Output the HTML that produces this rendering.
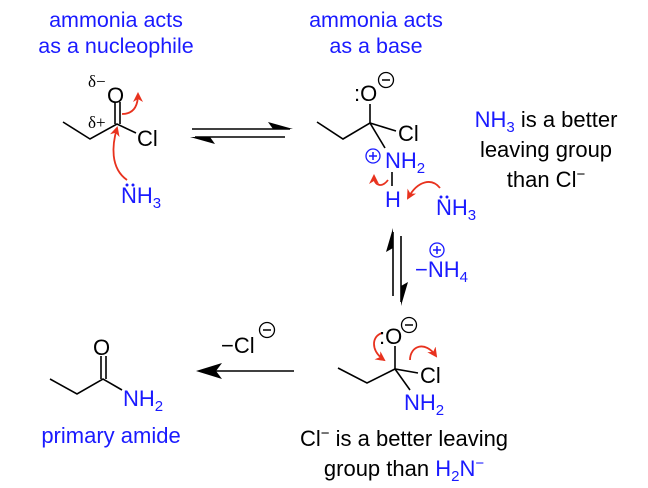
<!DOCTYPE html>
<html><head><meta charset="utf-8"><style>
html,body{margin:0;padding:0;background:#fff;}
svg{display:block;}
text{font-family:"Liberation Sans",Arial,sans-serif;}
.b{fill:#1a1aff;}
.k{fill:#000;}
</style></head><body>
<svg width="648" height="488" viewBox="0 0 648 488" xmlns="http://www.w3.org/2000/svg">
<defs>
<marker id="ra" markerWidth="10" markerHeight="10" refX="8" refY="5" orient="auto" markerUnits="userSpaceOnUse">
<path d="M0,0 L10,5 L0,10 L3,5 Z" fill="#e8321e"/></marker>
</defs>
<text x="116" y="27" font-size="21.5" text-anchor="middle" class="b">ammonia acts</text>
<text x="116" y="53" font-size="21.5" text-anchor="middle" class="b">as a nucleophile</text>
<text x="376" y="27" font-size="21.5" text-anchor="middle" class="b">ammonia acts</text>
<text x="376" y="53" font-size="21.5" text-anchor="middle" class="b">as a base</text>

<g stroke="#000" stroke-width="1.6" fill="none">
<polyline points="63,122 90,139 117,124 136,133"/>
<line x1="115" y1="124" x2="115" y2="102"/>
<line x1="120" y1="124" x2="120" y2="102"/>
<line x1="192" y1="129" x2="290" y2="129"/>
<line x1="195" y1="137" x2="285" y2="137"/>
<polyline points="317,122 343,139 370,123 396,131"/>
<line x1="370" y1="123" x2="370" y2="104"/>
<line x1="370" y1="123" x2="385" y2="148"/>
<line x1="392" y1="172" x2="392" y2="186"/>
<line x1="393" y1="232" x2="393" y2="296"/>
<line x1="401" y1="236" x2="401" y2="302"/>
<polyline points="338,368 367,383 395,369 418,373"/>
<line x1="395" y1="369" x2="395" y2="346"/>
<line x1="395" y1="369" x2="410" y2="390"/>
<polyline points="50,379 77,394 103,379 122,390"/>
<line x1="101" y1="379" x2="101" y2="356"/>
<line x1="106" y1="379" x2="106" y2="356"/>
<line x1="215" y1="371" x2="294" y2="371"/>
</g>
<path d="M293,129 L268,122 L273,129 Z" fill="#000"/>
<path d="M190,137 L215,144 L210,137 Z" fill="#000"/>
<path d="M393,228 L386,252 L393,248 Z" fill="#000"/>
<path d="M401,306 L408,282 L401,286 Z" fill="#000"/>
<path d="M196,371 L222,363 L216,371 L222,379 Z" fill="#000"/>

<text x="107" y="103" font-size="22" class="k">O</text>
<text x="137" y="146" font-size="22" class="k">Cl</text>
<text x="88" y="87" font-size="17" style="font-family:'Liberation Serif',serif" class="k">δ−</text>
<text x="88" y="128" font-size="17" style="font-family:'Liberation Serif',serif" class="k">δ+</text>
<text x="121" y="203" font-size="22" class="b">NH<tspan font-size="15" dy="5">3</tspan></text>
<circle cx="127" cy="185" r="1.5" class="b"/><circle cx="133" cy="185" r="1.5" class="b"/>
<g stroke="#e8321e" stroke-width="1.8" fill="none">
<path d="M127,180 C110,168 112,145 117,128" marker-end="url(#ra)"/>
<path d="M122,114 C132,114 138,108 138,94" marker-end="url(#ra)"/>
<path d="M388,180 C382,188 374,186 374,176" marker-end="url(#ra)"/>
<path d="M440,188 C432,178 418,180 408,198" marker-end="url(#ra)"/>
<path d="M382,333 C372,336 370,350 384,360" marker-end="url(#ra)"/>
<path d="M410,360 C410,346 425,340 436,356" marker-end="url(#ra)"/>
</g>

<text x="354" y="101" font-size="22" class="k">:O</text>
<circle cx="386" cy="80" r="7.5" fill="none" stroke="#000" stroke-width="1.3"/>
<line x1="382" y1="80" x2="390" y2="80" stroke="#000" stroke-width="1.5"/>
<text x="398" y="141" font-size="22" class="k">Cl</text>
<circle cx="373" cy="156" r="7" fill="none" stroke="#1a1aff" stroke-width="1.3"/>
<line x1="369" y1="156" x2="377" y2="156" stroke="#1a1aff" stroke-width="1.5"/>
<line x1="373" y1="152" x2="373" y2="160" stroke="#1a1aff" stroke-width="1.5"/>
<text x="385" y="168" font-size="22" class="b">NH<tspan font-size="15" dy="5">2</tspan></text>
<text x="385" y="207" font-size="22" class="b">H</text>
<text x="436" y="215" font-size="22" class="b">NH<tspan font-size="15" dy="5">3</tspan></text>
<circle cx="441" cy="197" r="1.5" class="b"/><circle cx="447" cy="197" r="1.5" class="b"/>

<text x="546" y="127" font-size="22" text-anchor="middle" class="k"><tspan class="b">NH<tspan font-size="15" dy="5">3</tspan></tspan><tspan dy="-5"> is a better</tspan></text>
<text x="546" y="157" font-size="22" text-anchor="middle" class="k">leaving group</text>
<text x="546" y="187" font-size="22" text-anchor="middle" class="k">than Cl<tspan font-size="15" dy="-8">−</tspan></text>

<circle cx="437" cy="250" r="7" fill="none" stroke="#1a1aff" stroke-width="1.3"/>
<line x1="433" y1="250" x2="441" y2="250" stroke="#1a1aff" stroke-width="1.5"/>
<line x1="437" y1="246" x2="437" y2="254" stroke="#1a1aff" stroke-width="1.5"/>
<text x="415" y="277" font-size="22" class="b">−NH<tspan font-size="15" dy="5">4</tspan></text>

<text x="379" y="344" font-size="22" class="k">:O</text>
<circle cx="409" cy="325" r="7.5" fill="none" stroke="#000" stroke-width="1.3"/>
<line x1="405" y1="325" x2="413" y2="325" stroke="#000" stroke-width="1.5"/>
<text x="420" y="383" font-size="22" class="k">Cl</text>
<text x="404" y="410" font-size="22" class="b">NH<tspan font-size="15" dy="5">2</tspan></text>

<text x="404" y="446" font-size="22" text-anchor="middle" class="k">Cl<tspan font-size="15" dy="-8">−</tspan><tspan dy="8"> is a better leaving</tspan></text>
<text x="404" y="476" font-size="22" text-anchor="middle" class="k">group than <tspan class="b">H<tspan font-size="15" dy="5">2</tspan><tspan dy="-5">N</tspan><tspan font-size="15" dy="-8">−</tspan></tspan></text>

<text x="93" y="355" font-size="22" class="k">O</text>
<text x="123" y="406" font-size="22" class="b">NH<tspan font-size="15" dy="5">2</tspan></text>
<text x="111" y="443" font-size="22" text-anchor="middle" class="b">primary amide</text>
<text x="221" y="353" font-size="22" class="k">−Cl</text>
<circle cx="267" cy="330" r="7.5" fill="none" stroke="#000" stroke-width="1.3"/>
<line x1="263" y1="330" x2="271" y2="330" stroke="#000" stroke-width="1.5"/>
</svg>
</body></html>
